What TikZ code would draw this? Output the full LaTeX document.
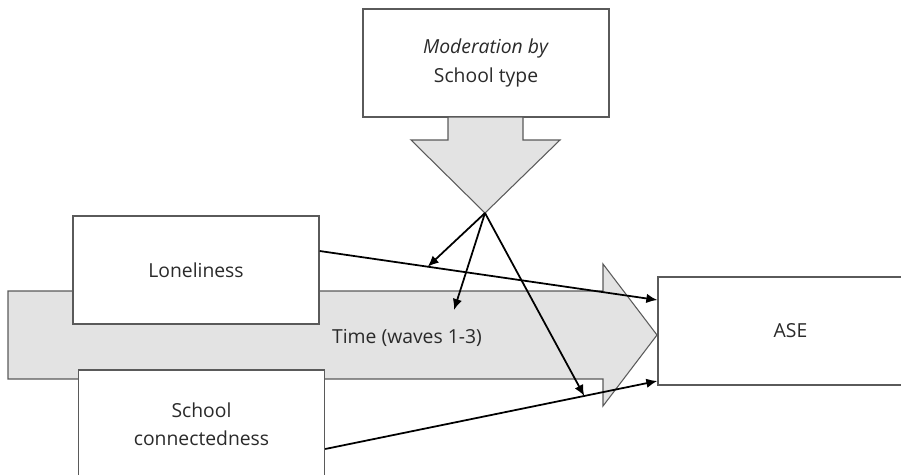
\documentclass[tikz,border=0pt]{standalone}
\usepackage{fontspec}
\setmainfont{Open Sans}
\usepackage{tikz}
\usetikzlibrary{arrows.meta, positioning}

\definecolor{boxline}{HTML}{5A5A5A}
\definecolor{bandfill}{HTML}{E3E3E3}
\definecolor{txt}{HTML}{2A2A2A}

\begin{document}
\begin{tikzpicture}[x=0.02cm, y=-0.02cm, -{Latex[length=2.2mm,width=1.9mm]}, line width=1pt,
  font=\fontsize{11}{16}\selectfont, text=txt]
\tikzstyle{var}=[draw=boxline, fill=white, line width=0.8pt, rectangle, minimum width=4.92cm, minimum height=2.16cm, align=center, inner sep=0pt]
\tikzstyle{band}=[draw=boxline, fill=bandfill, line width=0.6pt]

\useasboundingbox (0,0) rectangle (901,474);
\clip (0,0) rectangle (901,474);

% time band
\draw[band, -] (8,291) -- (603,291) -- (603,264) -- (657,335) -- (603,406) -- (603,379) -- (8,379) -- cycle;
\node (T) at (407,338) {Time (waves 1-3)};

% variables
\node[var]    (M) at (486,63)    {\textit{Moderation by}\\School type};
\node[var]    (L) at (196,270)   {Loneliness};
\node[var]    (S) at (201.5,424) {School\\connectedness};
\node[var, minimum width=5.3cm, text width=4.92cm] (A) at (790.5,331) {ASE};

% moderation arrow
\draw[band, -] (448,117) -- (523,117) -- (523,140) -- (560,140) -- (485,213) -- (411,140) -- (448,140) -- cycle;
\coordinate (tip) at (485,213);
\coordinate (mid) at (454,310);

\path
([yshift=0.38cm]L.east) edge    coordinate[pos=0.32] (lm)    ([yshift=0.62cm]A.west)
([yshift=-0.5cm]S.east) edge    coordinate[pos=0.78] (sm)    ([yshift=-1cm]A.west)

(tip) edge    (lm)
(tip) edge    (mid)
(tip) edge    (sm);

\end{tikzpicture}
\end{document}
